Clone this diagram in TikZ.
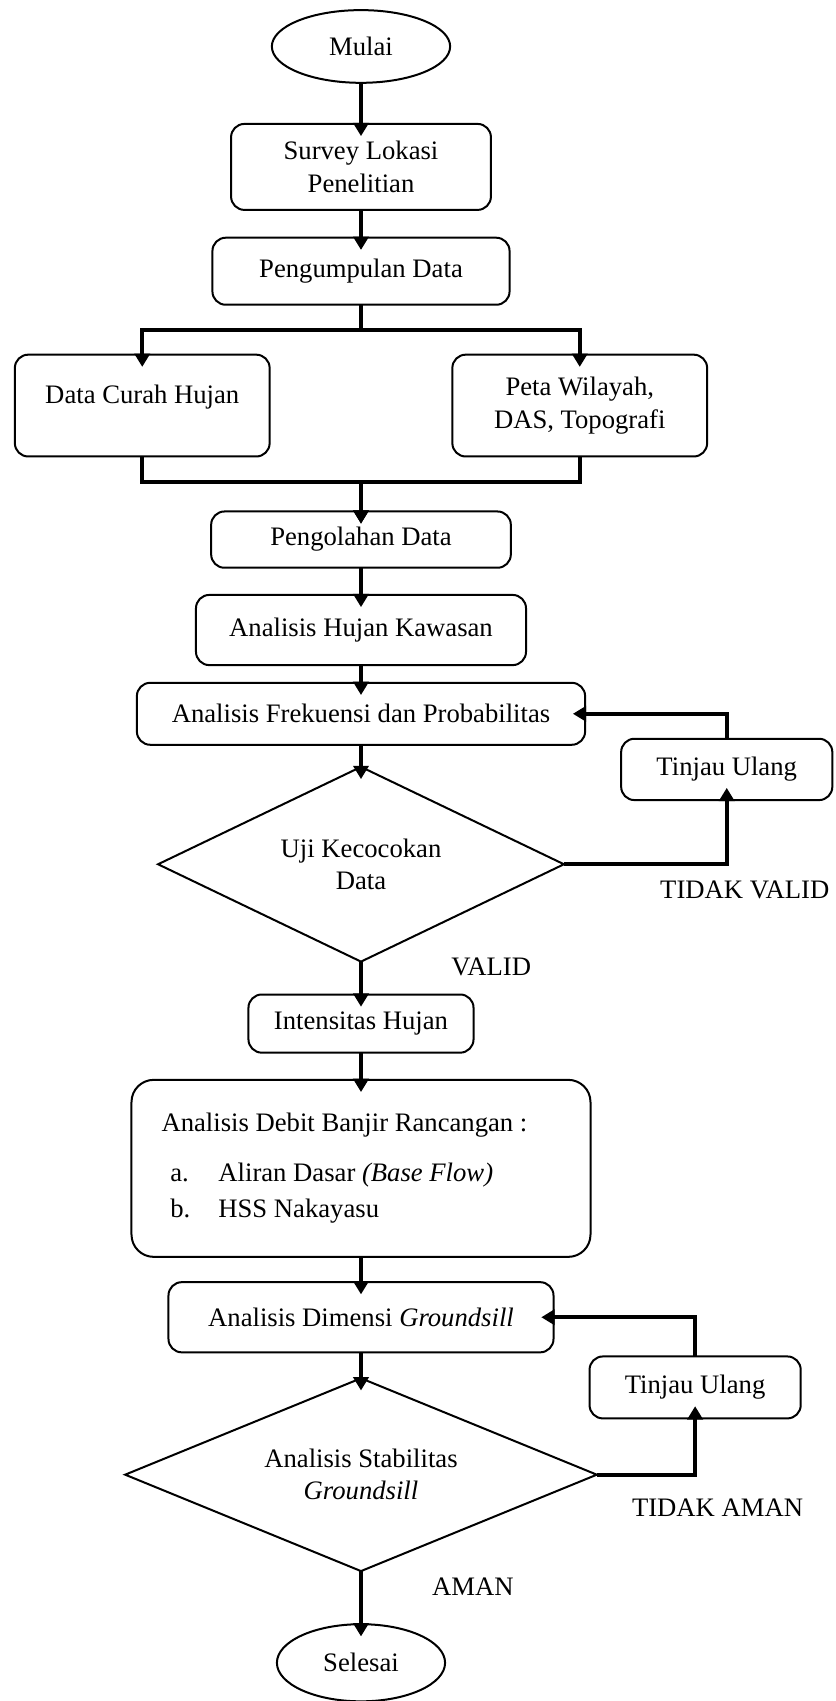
\documentclass[tikz,border=0pt]{standalone}
\usepackage{fontspec}
\setmainfont{Liberation Serif}
\usetikzlibrary{positioning, arrows.meta, shapes.geometric}

\begin{document}
\begin{tikzpicture}[
  node distance=0.4cm,
  font=\fontsize{12}{14.5}\selectfont,
  terminal/.style={
    ellipse, draw, line width=0.9pt, outer sep=0pt,
    minimum width=2.82cm, minimum height=1.15cm, inner sep=0pt
  },
  proses/.style={
    rectangle, rounded corners=6pt, draw, line width=0.9pt,
    align=center, inner sep=2pt, outer sep=0pt
  },
  keputusan/.style={
    diamond, draw, line width=0.9pt, aspect=2.1,
    align=center, inner sep=0pt, outer sep=0pt
  },
  lbl/.style={inner sep=0pt},
  arr/.style={-{Triangle[width=6.8pt,length=6pt]}, line width=1.7pt, shorten >=-5.5pt},
]
\useasboundingbox (-5.71,0.735) rectangle (7.50,-26.17);

% Awal
\node[terminal] (mulai) {Mulai};
\node[proses, minimum width=4.11cm, minimum height=1.36cm, below=0.65cm of mulai] (survey) {Survey Lokasi\\Penelitian};
\node[proses, minimum width=4.70cm, minimum height=1.06cm, below=0.44cm of survey] (kumpul) {Pengumpulan Data};

% Data
\node[proses, minimum width=4.03cm, minimum height=1.61cm, text depth=10pt, below=0.79cm of kumpul, xshift=-3.46cm] (curah) {Data Curah Hujan};
\node[proses, minimum width=4.03cm, minimum height=1.61cm, below=0.79cm of kumpul, xshift=3.46cm] (peta) {Peta Wilayah,\\DAS, Topografi};

% Analisis hidrologi
\node[proses, minimum width=4.74cm, minimum height=0.89cm, below=3.27cm of kumpul] (olah) {Pengolahan Data};
\node[proses, minimum width=5.22cm, minimum height=1.11cm, below=0.43cm of olah] (kawasan) {Analisis Hujan Kawasan};
\node[proses, minimum width=7.09cm, minimum height=0.98cm, below=0.28cm of kawasan] (frek) {Analisis Frekuensi dan Probabilitas};
\node[keputusan, minimum width=6.42cm, minimum height=3.08cm, below=0.35cm of frek] (uji) {Uji Kecocokan\\Data};
\node[proses, minimum width=3.34cm, minimum height=0.97cm, right=0.57cm of frek, yshift=-0.88cm] (tinjau1) {Tinjau Ulang};
\node[proses, minimum width=3.56cm, minimum height=0.92cm, below=0.52cm of uji] (intens) {Intensitas Hujan};
\node[proses, rounded corners=10pt, minimum width=7.26cm, minimum height=2.80cm, text width=6.31cm, align=flush left, inner sep=0pt, below=0.43cm of intens] (debit) {Analisis Debit Banjir Rancangan :\\[8pt]
  \hspace*{0.14cm}\makebox[0.76cm][l]{a.}Aliran Dasar \textit{(Base Flow)}\\[1.7pt]
  \hspace*{0.14cm}\makebox[0.76cm][l]{b.}HSS Nakayasu};

% Groundsill
\node[proses, minimum width=6.09cm, minimum height=1.11cm, below=0.40cm of debit] (dimensi) {Analisis Dimensi \textit{Groundsill}};
\node[keputusan, minimum width=7.46cm, minimum height=3.05cm, below=0.41cm of dimensi] (stab) {Analisis Stabilitas\\\textit{Groundsill}};
\node[proses, minimum width=3.34cm, minimum height=0.98cm, right=0.57cm of dimensi, yshift=-1.11cm] (tinjau2) {Tinjau Ulang};
\node[terminal, minimum width=2.66cm, minimum height=1.22cm, below=0.84cm of stab] (selesai) {Selesai};

% Keterangan
\node[lbl] (tdkvalid) at ([xshift=2.86cm, yshift=-0.41cm]uji.east) {TIDAK VALID};
\node[lbl] (valid) at ([xshift=2.06cm, yshift=-0.08cm]uji.south) {VALID};
\node[lbl] (tdkaman) at ([xshift=1.91cm, yshift=-0.52cm]stab.east) {TIDAK AMAN};
\node[lbl] (aman) at ([xshift=1.77cm, yshift=-0.24cm]stab.south) {AMAN};

% Alur utama
\draw[arr] (mulai) -- (survey);
\draw[arr] (survey) -- (kumpul);
\draw[arr] (kumpul.south) -- ++(0,-0.40) -| (curah.north);
\draw[arr] (kumpul.south) -- ++(0,-0.40) -| (peta.north);
\draw[arr] (curah.south) -- ++(0,-0.40) -| (olah.north);
\draw[arr] (peta.south) -- ++(0,-0.40) -| (olah.north);
\draw[arr] (olah) -- (kawasan);
\draw[arr] (kawasan) -- (frek);
\draw[arr] (frek) -- (uji);
\draw[arr] (uji) -- (intens);
\draw[arr] (intens) -- (debit);
\draw[arr] (debit) -- (dimensi);
\draw[arr] (dimensi) -- (stab);
\draw[arr] (stab) -- (selesai);

% Umpan balik
\draw[arr] (uji.east) -| (tinjau1.south);
\draw[arr] (tinjau1.north) |- (frek.east);
\draw[arr] (stab.east) -| (tinjau2.south);
\draw[arr] (tinjau2.north) |- (dimensi.east);

\end{tikzpicture}
\end{document}
